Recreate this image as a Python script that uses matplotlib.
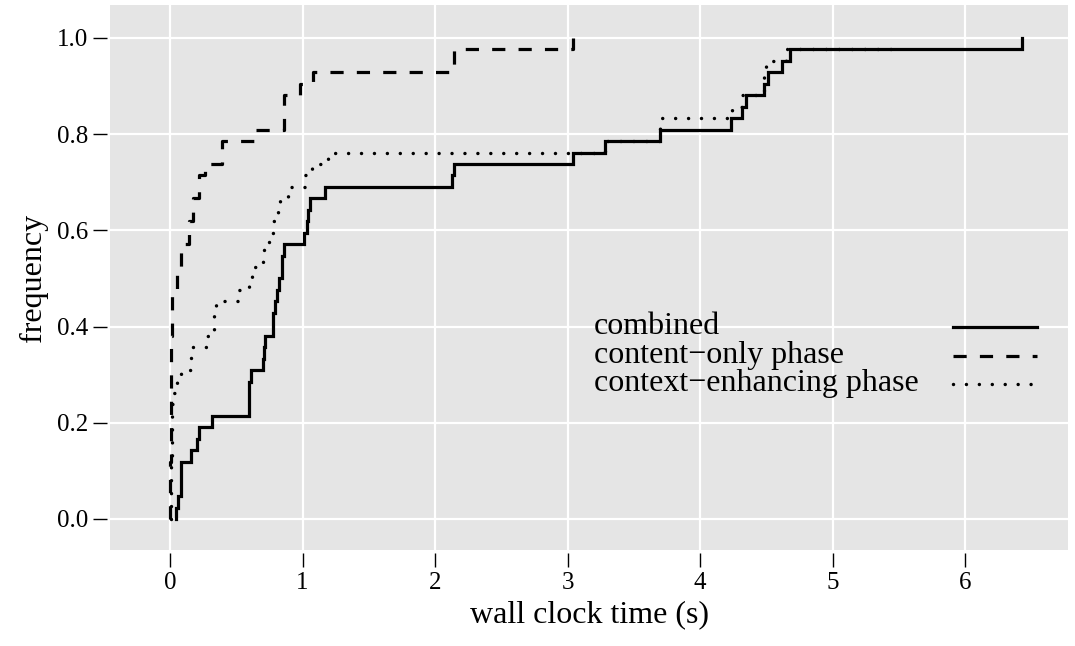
import numpy as np
import matplotlib
matplotlib.use("Agg")
import matplotlib.pyplot as plt
from matplotlib.lines import Line2D

plt.rcParams["font.family"] = ["Liberation Serif", "DejaVu Serif"]
plt.rcParams["lines.scale_dashes"] = False

# ---- data: sorted run times per series, n = 42 each ----
combined = [0.045, 0.06, 0.08, 0.08, 0.08, 0.16, 0.20, 0.22, 0.315,
            0.596, 0.596, 0.596, 0.61, 0.70, 0.71, 0.72, 0.78, 0.78, 0.79,
            0.805, 0.825, 0.843, 0.843, 0.86, 1.01, 1.03, 1.04, 1.06, 1.17,
            2.126, 2.14, 3.045, 3.28, 3.70, 4.23, 4.32, 4.35, 4.48, 4.51,
            4.62, 4.68, 6.43]
content_only = [0.0, 0.0, 0.0, 0.002, 0.003, 0.004, 0.005, 0.005, 0.006, 0.007,
                0.008, 0.008, 0.009, 0.01, 0.01, 0.011, 0.012, 0.013, 0.014, 0.015,
                0.05, 0.05, 0.08, 0.08, 0.145, 0.145, 0.175, 0.175, 0.22, 0.22,
                0.264, 0.39, 0.39, 0.65, 0.86, 0.86, 0.86, 0.98, 1.08, 2.14,
                2.14, 3.04]
context_enh = [0.005, 0.006, 0.008, 0.01, 0.01, 0.012, 0.013, 0.015, 0.016, 0.018,
               0.025, 0.05, 0.08, 0.16, 0.16, 0.27, 0.33, 0.33, 0.35, 0.51,
               0.595, 0.62, 0.70, 0.71, 0.75, 0.78, 0.815, 0.83, 0.89, 1.02,
               1.07, 1.19, 3.28, 3.70, 3.70, 4.24, 4.32, 4.48, 4.48, 4.50,
               4.65, 5.45]
series_labels = ["combined", "content\u2212only phase", "context\u2212enhancing phase"]

x_ticks = [0, 1, 2, 3, 4, 5, 6]
y_ticks = [0.0, 0.2, 0.4, 0.6, 0.8, 1.0]
x_label = "wall clock time (s)"
y_label = "frequency"

# ---- figure ----
W, H, DPI = 1075, 646, 100
fig = plt.figure(figsize=(W / DPI, H / DPI), dpi=DPI)
ax = fig.add_axes([110 / W, 1 - 550 / H, (1068 - 110) / W, (550 - 5) / H])
ax.set_facecolor("#E5E5E5")

styles = [
    dict(linestyle="-", linewidth=2.3),
    dict(linestyle=(0, (9.5, 9.5)), linewidth=2.3),
    dict(linestyle=(0, (0.01, 9.3)), linewidth=2.5, dash_capstyle="round"),
]


def ecdf_xy(values):
    v = np.sort(np.asarray(values, dtype=float))
    n = len(v)
    xs = np.r_[v[0], v]
    ys = np.r_[0.0, np.arange(1, n + 1) / n]
    return xs, ys


for vals, st in zip([combined, content_only, context_enh], styles):
    xs, ys = ecdf_xy(vals)
    ax.plot(xs, ys, drawstyle="steps-post", color="black",
            solid_joinstyle="miter", **st)

ax.set_xlim(-0.453, 6.777)
ax.set_ylim(-0.0645, 1.0686)
ax.set_xticks(x_ticks)
ax.set_xticklabels([str(t) for t in x_ticks])
ax.set_yticks(y_ticks)
ax.set_yticklabels([f"{t:.1f}" for t in y_ticks])
ax.grid(True, color="white", linewidth=1.6)
ax.set_axisbelow(True)
for s in ax.spines.values():
    s.set_visible(False)
ax.spines["left"].set_position(("outward", 2))
ax.spines["bottom"].set_position(("outward", 2))
ax.tick_params(axis="both", direction="out", length=10, width=1.0,
               color="black", labelsize=18, pad=4)

ax.set_xlabel(x_label, fontsize=23, labelpad=4)
ax.set_ylabel(y_label, fontsize=23, labelpad=6)

# ---- legend (manual, labels left, keys right) ----
leg_y = [327, 356, 384]
for lab, st, py in zip(series_labels, styles, leg_y):
    yf = 1 - (py - 5) / (550 - 5)
    ax.text((594 - 110) / 958, yf, lab, transform=ax.transAxes,
            fontsize=23, va="center", ha="left")
    ax.add_line(Line2D([(953 - 110) / 958, (1037 - 110) / 958], [yf, yf],
                       transform=ax.transAxes, color="black", **st))

fig.savefig("out.png", dpi=DPI)
